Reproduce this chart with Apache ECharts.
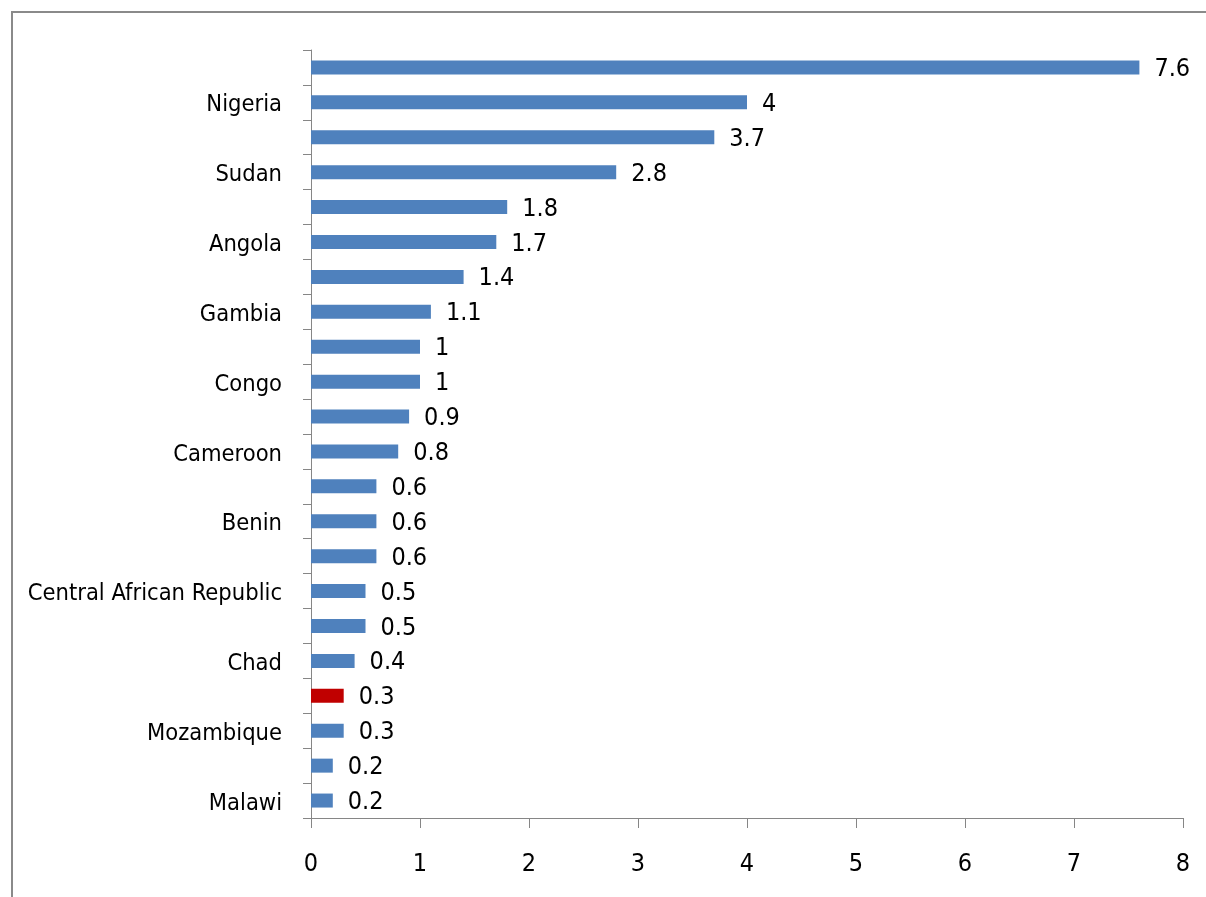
<!DOCTYPE html>
<html>
<head>
<meta charset="utf-8">
<script src="https://cdn.jsdelivr.net/npm/echarts@6/dist/echarts.min.js"></script>
<style>
  html, body { margin: 0; padding: 0; background: #fff; }
  #chart { width: 1206px; height: 897px; }
</style>
</head>
<body>
<div id="chart"></div>
<script>
// Categories listed bottom-to-top; only every other row carries a name.
const categories = [
  'Malawi', '', 'Mozambique', '', 'Chad', '', 'Central African Republic', '',
  'Benin', '', 'Cameroon', '', 'Congo', '', 'Gambia', '', 'Angola', '',
  'Sudan', '', 'Nigeria', ''
];
const values = [
  0.2, 0.2, 0.3, 0.3, 0.4, 0.5, 0.5, 0.6, 0.6, 0.6, 0.8, 0.9,
  1, 1, 1.1, 1.4, 1.7, 1.8, 2.8, 3.7, 4, 7.6
];
// Row that is drawn in the highlight colour.
const highlightIndex = 3;
const xTicks = [0, 1, 2, 3, 4, 5, 6, 7, 8];

const FONT = '"Liberation Sans Narrow", "DejaVu Sans Condensed", "Noto Sans", sans-serif';
const BLUE = '#4F81BD';
const RED = '#C00000';
const AXIS = '#868686';

const chart = echarts.init(document.getElementById('chart'), null, { renderer: 'canvas' });

chart.setOption({
  animation: false,
  backgroundColor: '#ffffff',
  graphic: [{
    type: 'rect',
    shape: { x: 12, y: 12, width: 1400, height: 1000 },
    style: { fill: 'none', stroke: '#8a8a8a', lineWidth: 2 },
    silent: true
  }],
  grid: { left: 311, right: 23, top: 50, bottom: 79, containLabel: false },
  xAxis: {
    type: 'value',
    min: xTicks[0],
    max: xTicks[xTicks.length - 1],
    interval: 1,
    axisLine: { show: true, lineStyle: { color: AXIS, width: 1 } },
    axisTick: { show: true, length: 10, lineStyle: { color: AXIS } },
    splitLine: { show: false },
    axisLabel: {
      color: '#000', fontFamily: FONT, fontSize: 25, margin: 34
    }
  },
  yAxis: {
    type: 'category',
    data: categories,
    axisLine: { show: true, lineStyle: { color: AXIS, width: 1 } },
    axisTick: { show: true, length: 8, interval: 0, lineStyle: { color: AXIS } },
    axisLabel: {
      interval: 0, color: '#000', fontFamily: FONT, fontSize: 23.5, margin: 29,
      verticalAlign: 'top', lineHeight: 6
    },
    splitLine: { show: false }
  },
  series: [{
    type: 'bar',
    barWidth: 14,
    data: values.map((v, i) => ({
      value: v,
      itemStyle: { color: i === highlightIndex ? RED : BLUE }
    })),
    label: {
      show: true,
      position: 'right',
      distance: 15,
      offset: [0, 2],
      color: '#000',
      fontFamily: FONT,
      fontSize: 25
    }
  }]
});
</script>
</body>
</html>
